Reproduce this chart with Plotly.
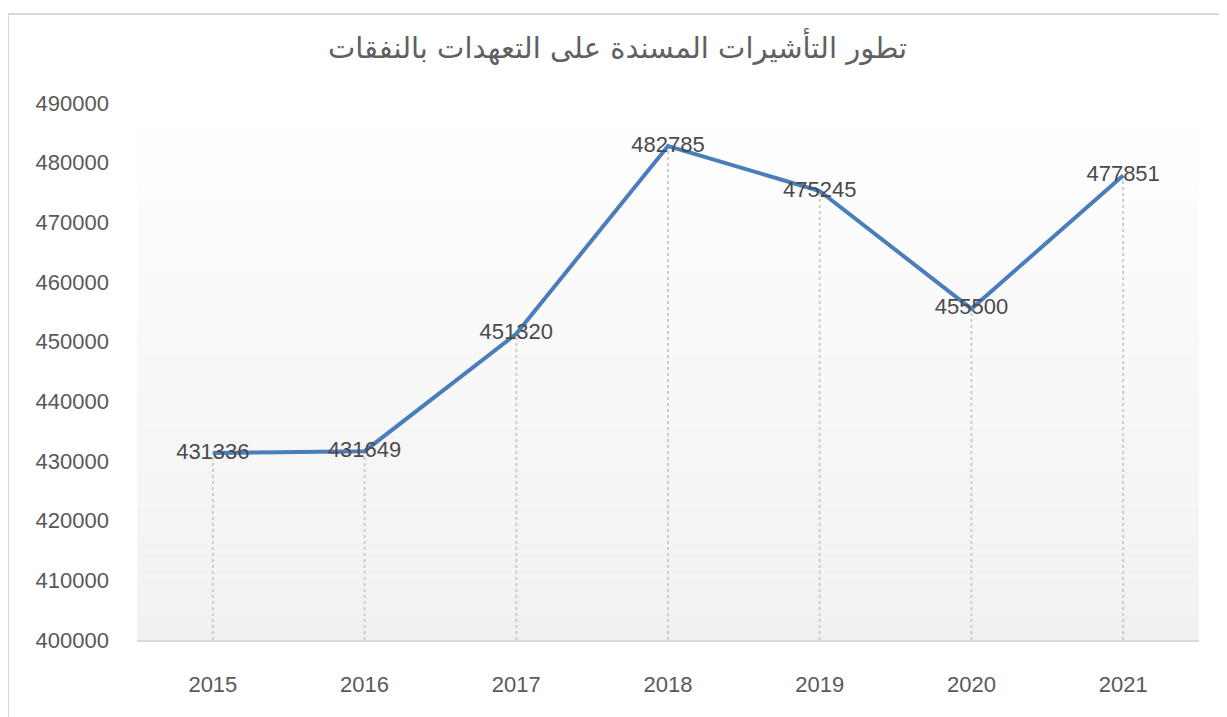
"""
تطور التأشيرات المسندة على التعهدات بالنفقات - line chart
"""
import plotly.graph_objects as go

years = ['2015', '2016', '2017', '2018', '2019', '2020', '2021']
values = [431336, 431649, 451320, 482785, 475245, 455500, 477851]
y_ticks = [400000, 410000, 420000, 430000, 440000, 450000, 460000, 470000, 480000, 490000]
title_text = 'تطور التأشيرات المسندة على التعهدات بالنفقات'

fig = go.Figure()

# drop lines from each point down to the axis
drop_x, drop_y = [], []
for yr, v in zip(years, values):
    drop_x += [yr, yr, None]
    drop_y += [y_ticks[0], v, None]

fig.add_trace(go.Scatter(
    x=drop_x, y=drop_y, mode='lines',
    line=dict(color='#cccccc', width=2, dash='dot'),
    hoverinfo='skip', showlegend=False
))

fig.add_trace(go.Scatter(
    x=years, y=values,
    mode='lines+text',
    text=[str(v) for v in values],
    textposition='middle center',
    textfont=dict(family='Liberation Sans, Arial', size=22, color='#4a4a4a'),
    line=dict(color='#4a7ebb', width=4),
    showlegend=False
))

# vertical gradient background (white top -> light gray bottom)
shapes = []
n = 60
for i in range(n):
    t = i / (n - 1)
    c = int(round(255 - (255 - 241) * (1 - t)))
    shapes.append(dict(
        type='rect', xref='x domain', yref='y domain',
        x0=0, x1=1, y0=i / n, y1=(i + 1) / n,
        fillcolor=f'rgb({c},{c},{c})', line=dict(width=0), layer='below'
    ))
# chart frame
shapes.append(dict(
    type='rect', xref='paper', yref='paper',
    x0=-0.1215, x1=1.2, y0=-0.3, y1=1.1657,
    line=dict(color='#d9d9d9', width=2), fillcolor='rgba(0,0,0,0)', layer='below'
))

# page body has an 8px margin, so the figure is a bit smaller
fig.update_layout(
    width=1219, height=709,
    margin=dict(l=129, r=28, t=95, b=77),
    paper_bgcolor='white',
    plot_bgcolor='white',
    title=dict(
        text=title_text, x=0.5, xanchor='center', xref='container',
        y=1 - 40 / 709, yref='container', yanchor='middle',
        font=dict(family='DejaVu Sans, Noto Sans', size=29, color='#606060')
    ),
    shapes=shapes,
    font=dict(family='Liberation Sans, Arial', color='#595959', size=22),
)

fig.update_xaxes(
    type='category', categoryorder='array', categoryarray=years,
    range=[-0.5, len(years) - 0.5],
    showgrid=False, zeroline=False,
    showline=True, linecolor='#d9d9d9', linewidth=2,
    ticks='', ticklabelstandoff=24,
    tickfont=dict(size=22, color='#595959')
)
fig.update_yaxes(
    range=[y_ticks[0], y_ticks[-1]],
    tickvals=y_ticks, ticktext=[str(v) for v in y_ticks],
    showgrid=False, zeroline=False, showline=False,
    ticks='', ticklabelstandoff=27,
    tickfont=dict(size=22, color='#595959')
)

fig.write_html('out.html')
